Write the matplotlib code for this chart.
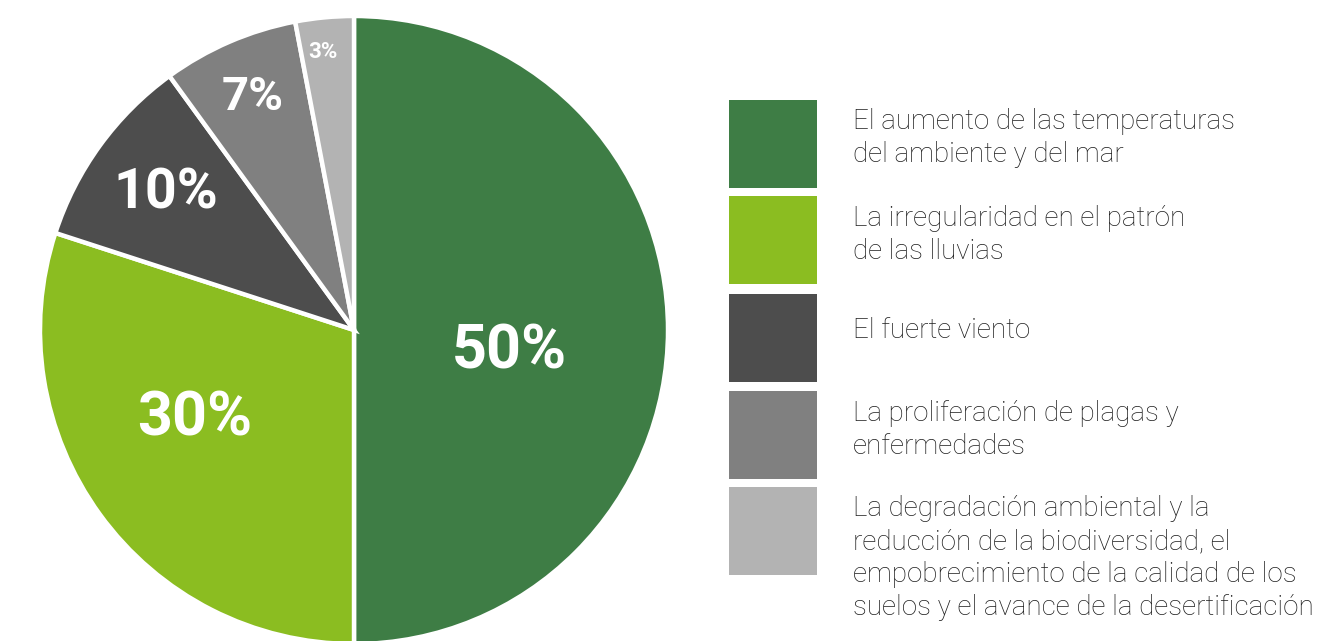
import numpy as np
import matplotlib
matplotlib.use("Agg")
import matplotlib.pyplot as plt
from matplotlib.patches import Rectangle

# Data
shares = [50, 30, 10, 7, 3]
pct_labels = ["50%", "30%", "10%", "7%", "3%"]
causes = [
    "El aumento de las temperaturas\ndel ambiente y del mar",
    "La irregularidad en el patrón\nde las lluvias",
    "El fuerte viento",
    "La proliferación de plagas y\nenfermedades",
    "La degradación ambiental y la\nreducción de la biodiversidad, el\n"
    "empobrecimiento de la calidad de los\nsuelos y el avance de la desertificación",
]
colors = ["#3e7d45", "#8bbd21", "#4d4d4d", "#808080", "#b3b3b3"]

# label placement (radius fraction, angle tweak in degrees, font size)
label_r = [0.50, 0.58, 0.74, 0.81, 0.89]
label_dang = [-8, -7, 0, 0, 1]
label_size = [44, 44, 40, 34, 16]

W, H = 1343, 641
fig = plt.figure(figsize=(W / 100, H / 100), dpi=100)
ax = fig.add_axes([0, 0, 1, 1])

cx, cy, R = 354, H - 330, 314
wedges, _ = ax.pie(shares, colors=colors, startangle=90, counterclock=False,
                   center=(cx, cy), radius=R, frame=True,
                   wedgeprops=dict(edgecolor="white", linewidth=3.2))
ax.set_xlim(0, W)
ax.set_ylim(0, H)
ax.set_aspect("equal")
ax.axis("off")

for w, lab, rf, da, fs in zip(wedges, pct_labels, label_r, label_dang, label_size):
    mid = np.deg2rad((w.theta1 + w.theta2) / 2 + da)
    x = cx + rf * R * np.cos(mid)
    y = cy + rf * R * np.sin(mid)
    ax.text(x, y, lab, ha="center", va="center", color="white",
            fontsize=fs, fontweight="bold", family=["Roboto", "DejaVu Sans"])

# legend
box_x, box_w, box_h = 729, 88, 88
box_tops = [100, 196, 294, 391, 487]
text_dy = [-6, -5, -7, -5, 27]
for top, col, txt, dy in zip(box_tops, colors, causes, text_dy):
    ax.add_patch(Rectangle((box_x, H - top - box_h), box_w, box_h,
                           facecolor=col, edgecolor="none"))
    ax.text(853, H - (top + box_h / 2 + dy), txt, ha="left", va="center",
            fontsize=20, fontweight="light", color="#1e1e1e",
            linespacing=1.27, family=["Roboto", "DejaVu Sans"])

fig.savefig("out.png", dpi=100, facecolor="white")
